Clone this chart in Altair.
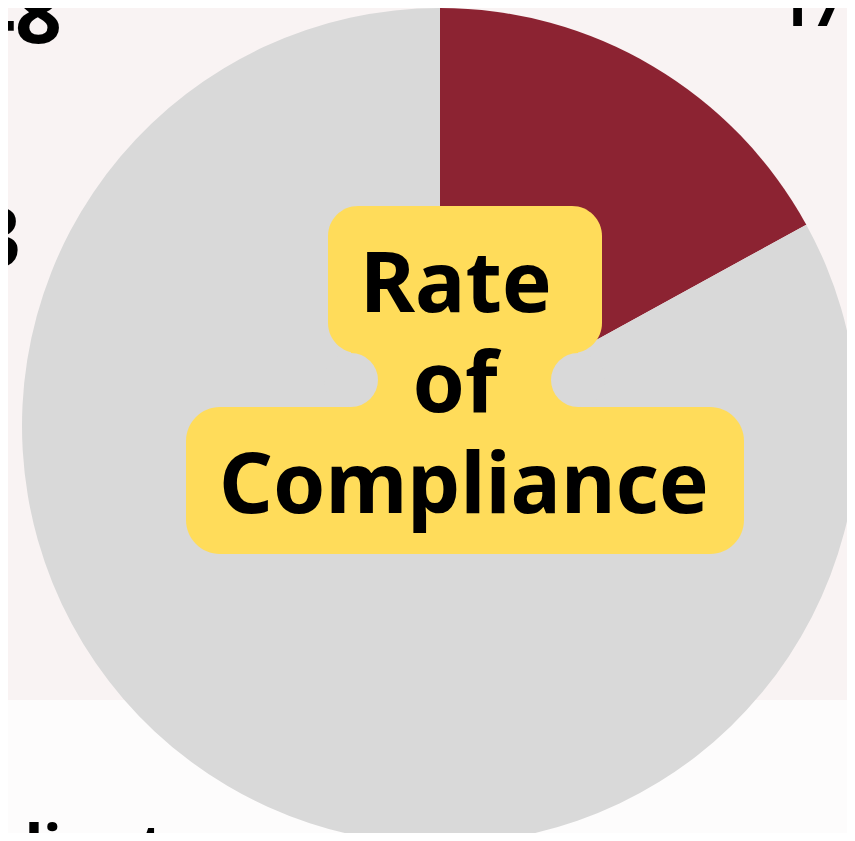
import altair as alt
import pandas as pd

# ---- data ----
categories = ["Non-compliant", "Compliant"]
shares = [17, 83]
slice_colors = ["#8C2332", "#D9D9D9"]
label_lines = ["Rate", "of", "Compliance"]
side_texts = ["48", "3", "17%", "Compliant"]

df = pd.DataFrame({"category": categories, "share": shares, "order": list(range(len(categories)))})

# ---- layout (page has 8px margin) ----
W, H = 839, 825
M = 8
def px(x):
    return x - M
def py(y):
    return y - M

YELLOW = "#FFDC5A"
GRAY = "#D9D9D9"
FONT = "Noto Sans"

one = alt.Data(values=[{"a": 1}])

lower_bg = alt.Chart(one).mark_rect(color="#FDFCFC").encode(
    x=alt.value(0), x2=alt.value(W), y=alt.value(py(700)), y2=alt.value(H)
)

pie = alt.Chart(df).mark_arc(radius=418, strokeWidth=0).encode(
    theta=alt.Theta("share:Q", stack=True),
    color=alt.Color("category:N", scale=alt.Scale(domain=categories, range=slice_colors), legend=None),
    order=alt.Order("order:Q"),
    x=alt.value(px(440)),
    y=alt.value(py(426)),
)

neck = alt.Chart(one).mark_rect(color=YELLOW).encode(
    x=alt.value(px(351)), x2=alt.value(px(578)), y=alt.value(py(345)), y2=alt.value(py(415))
)
notch_l = alt.Chart(one).mark_circle(color=GRAY, size=2916, opacity=1).encode(
    x=alt.value(px(351)), y=alt.value(py(380))
)
notch_r = alt.Chart(one).mark_circle(color=GRAY, size=2916, opacity=1).encode(
    x=alt.value(px(578)), y=alt.value(py(380))
)
top_box = alt.Chart(one).mark_rect(color=YELLOW, cornerRadius=30).encode(
    x=alt.value(px(328)), x2=alt.value(px(602)), y=alt.value(py(206)), y2=alt.value(py(353))
)
bot_box = alt.Chart(one).mark_rect(color=YELLOW, cornerRadius=34).encode(
    x=alt.value(px(186)), x2=alt.value(px(744)), y=alt.value(py(407)), y2=alt.value(py(554))
)

def txt(s, x, y, size, align="center"):
    return alt.Chart(one).mark_text(
        text=s, font=FONT, fontWeight="bold", fontSize=size, align=align,
        baseline="alphabetic", color="#000000"
    ).encode(x=alt.value(px(x)), y=alt.value(py(y)))

t1 = txt(label_lines[0], 456, 312, 84)
t2 = txt(label_lines[1], 455, 412, 84)
t3 = txt(label_lines[2], 464, 513, 84)

s1 = txt(side_texts[0], 62, 43, 82, align="right")
s2 = txt(side_texts[1], 21, 267, 82, align="right")
s3 = txt(side_texts[2], 778, 26, 58, align="left")
s4 = txt(side_texts[3], 166, 870, 62, align="right")

chart = alt.layer(lower_bg, pie, neck, notch_l, notch_r, top_box, bot_box, t1, t2, t3, s1, s2, s3, s4).properties(
    width=W, height=H, padding=0, autosize=alt.AutoSizeParams(type="none"), background="#F9F3F3"
).configure_view(stroke=None)

chart.save("out.html", embed_options={"renderer": "svg", "actions": False})
